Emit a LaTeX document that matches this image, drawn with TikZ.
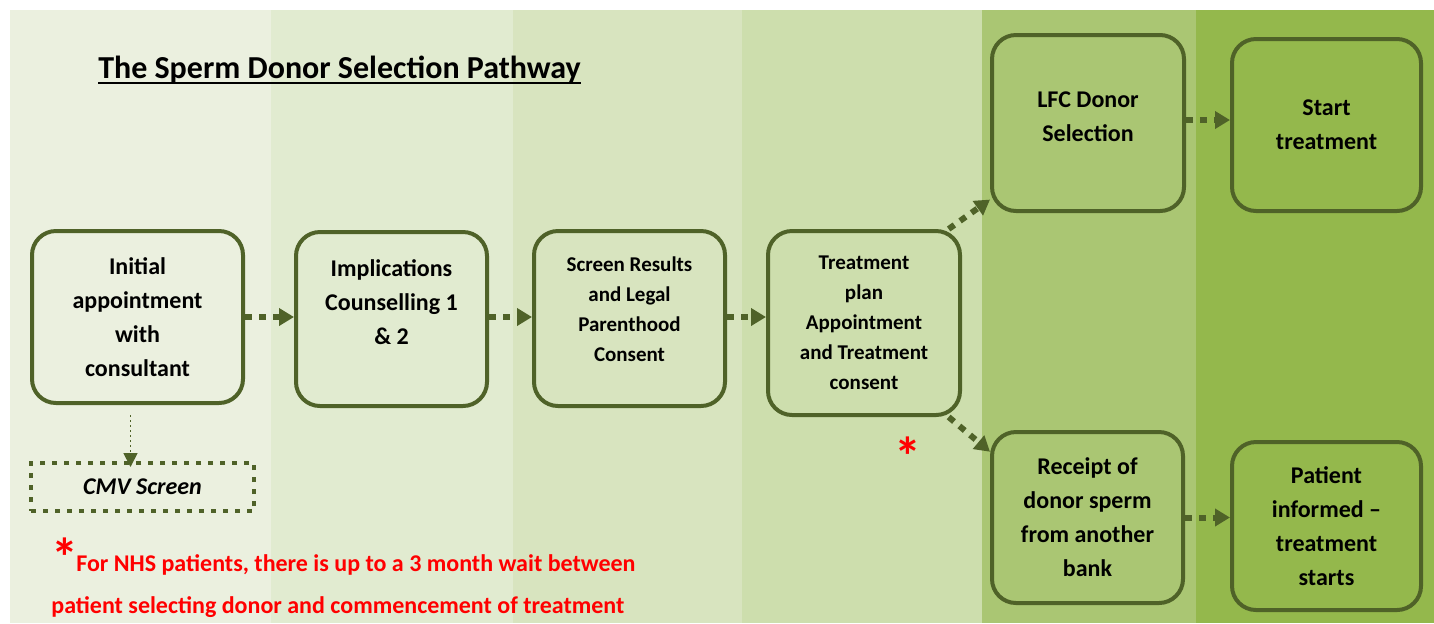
\documentclass[tikz,border=0pt]{standalone}
\usepackage{fontspec}
\setmainfont{Carlito}
\usetikzlibrary{arrows.meta}

\definecolor{boxline}{HTML}{4F6228}
\definecolor{colA}{HTML}{EBF0DF}
\definecolor{colB}{HTML}{E1EBD0}
\definecolor{colC}{HTML}{D8E4BF}
\definecolor{colD}{HTML}{CDDEAD}
\definecolor{colE}{HTML}{AAC673}
\definecolor{colF}{HTML}{94B84C}
\newcommand{\thickul}[1]{\setbox0\hbox{#1}\rlap{\rule[-3pt]{\wd0}{1.3pt}}\box0}

\begin{document}
\begin{tikzpicture}[x=0.5pt,y=-0.5pt,
    stepbox/.style={draw=boxline,line width=2pt,rounded corners=12pt,align=center,
      inner sep=0pt,font=\bfseries\fontsize{12}{17}\selectfont},
    smallbox/.style={stepbox,font=\bfseries\fontsize{10.5}{15}\selectfont},
    flow/.style={draw=boxline,line width=3pt,dash pattern=on 3.5pt off 3.5pt,
      -{Triangle[length=7.5pt,width=8.5pt]}},
    thinflow/.style={draw=boxline,line width=0.9pt,dash pattern=on 1pt off 1.5pt,
      -{Triangle[length=7pt,width=7pt]}},
  ]
  \useasboundingbox (0,0) rectangle (1434,623);

  % coloured columns
  \fill[colA] (10,10) rectangle (271,623);
  \fill[colB] (271,10) rectangle (513,623);
  \fill[colC] (513,10) rectangle (742,623);
  \fill[colD] (742,10) rectangle (982,623);
  \fill[colE] (982,10) rectangle (1196,623);
  \fill[colF] (1196,10) rectangle (1434,623);

  % title
  \node[font=\bfseries\fontsize{16}{19}\selectfont] (title) at (339.5,70)
    {\thickul{The Sperm Donor Selection Pathway}};

  % main steps
  \node[stepbox,minimum width=105.5pt,minimum height=86pt] (init) at (137.5,317)
    {Initial\\appointment\\with\\consultant};
  \node[stepbox,minimum width=95.5pt,minimum height=87pt] (impl) at (391.5,319)
    {Implications\\Counselling 1\\\& 2\\\mbox{}};
  \node[smallbox,minimum width=95.5pt,minimum height=87.5pt] (scr) at (629.5,318.5)
    {Screen Results\\and Legal\\Parenthood\\Consent\\[-5.5pt]\mbox{}};
  \node[smallbox,minimum width=96pt,minimum height=92pt] (treat) at (864,323)
    {Treatment\\plan\\Appointment\\and Treatment\\consent};

  % two routes
  \node[stepbox,minimum width=96pt,minimum height=88pt] (lfc) at (1088,123)
    {LFC Donor\\Selection\\[-10.5pt]\mbox{}};
  \node[stepbox,minimum width=94.5pt,minimum height=86pt] (start) at (1326.5,125)
    {Start\\treatment};
  \node[stepbox,minimum width=95.5pt,minimum height=85.5pt] (rcpt) at (1087.5,517.5)
    {Receipt of\\donor sperm\\from another\\bank};
  \node[stepbox,minimum width=94.5pt,minimum height=84pt] (pat) at (1326.5,526)
    {Patient\\informed --\\treatment\\starts};

  % CMV
  \node[draw=boxline,line width=2pt,dash pattern=on 2.5pt off 3.5pt,
    minimum width=111.5pt,minimum height=24pt,
    font=\bfseries\itshape\fontsize{12}{14}\selectfont] (cmv) at (142.5,487) {CMV Screen};

  % arrows
  \draw[flow] (init.east) -- (init.east -| impl.west);
  \draw[flow] (impl.east |- init.east) -- (init.east -| scr.west);
  \draw[flow] (scr.east |- init.east) -- (init.east -| treat.west);
  \draw[flow] (treat.48) -- (lfc.218);
  \draw[flow] (treat.-48) -- (rcpt.146);
  \draw[flow] ([yshift=1.5pt]lfc.east) -- ([yshift=1.5pt]lfc.east -| start.west);
  \draw[flow] (rcpt.east) -- (rcpt.east -| pat.west);
  \draw[thinflow] ([xshift=-3.5pt,yshift=-5pt]init.south) -- ([xshift=-3.5pt,yshift=-3pt]init.south |- cmv.north);

  % note
  \node[text=red,font=\bfseries\fontsize{27}{27}\selectfont] (star) at (908,456) {*};
  \node[anchor=north west,align=left,text=red,inner sep=0pt,
    font=\bfseries\fontsize{12}{21}\selectfont] (note) at (51,554)
    {\smash{\raisebox{-2.5pt}{\fontsize{27}{27}\selectfont*}}\kern-1pt For NHS patients, there is up to a 3 month wait between\\
     patient selecting donor and commencement of treatment};
\end{tikzpicture}
\end{document}
